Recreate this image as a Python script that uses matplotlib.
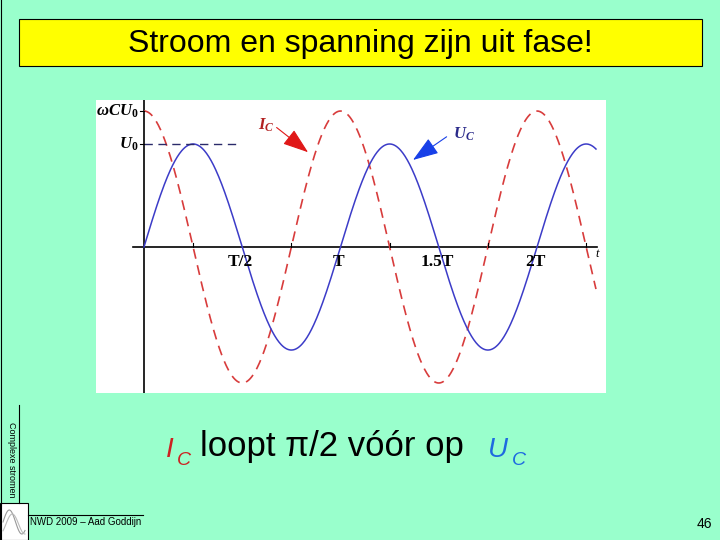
import numpy as np
import matplotlib.pyplot as plt
from matplotlib.patches import Rectangle

# curve parameters (U0 = 1, period T = 1)
period = 1.0
u0 = 1.0
i0 = 1.32          # omega*C*U0 relative to U0
t_end = 2.3

tick_pos = [0.5, 1.0, 1.5, 2.0]
tick_labels = ["T/2", "T", "1.5T", "2T"]
minor_ticks = [0.25, 0.75, 1.25, 1.75, 2.25]

plt.rcParams["mathtext.fontset"] = "custom"
plt.rcParams["mathtext.it"] = "Liberation Serif:italic:bold"
plt.rcParams["mathtext.rm"] = "Liberation Serif:bold"

W, H = 720, 540
fig = plt.figure(figsize=(7.2, 5.4), dpi=100, facecolor="#99FFCC")


def fx(x):
    return x / W


def fy(y):
    return 1 - y / H


# slide frame, title box
fig.add_artist(plt.Line2D([fx(1), fx(1)], [0, 1], color="black", lw=0.8))
fig.add_artist(Rectangle((fx(19), fy(66)), fx(683), 47 / H, facecolor="#FFFF00",
                         edgecolor="black", lw=0.8))
fig.text(fx(360), fy(44), "Stroom en spanning zijn uit fase!", ha="center", va="center",
         fontsize=23, family="Liberation Sans")

# main chart
ax = fig.add_axes([fx(96), fy(393), fx(510), 293 / H])
ax.set_facecolor("white")
for s in ax.spines.values():
    s.set_visible(False)
ax.set_xticks([])
ax.set_yticks([])
ax.set_xlim(-0.244, 2.351)
ax.set_ylim(-1.417, 1.427)

t = np.linspace(0, t_end, 600)
u = u0 * np.sin(2 * np.pi * t / period)
i = i0 * np.cos(2 * np.pi * t / period)

ax.axvline(0, color="black", lw=1.2)
ax.plot([-0.056, 2.305], [0, 0], color="black", lw=1.2)
ax.plot(t, i, color="#D83C3C", lw=1.2, ls=(0, (6, 4)))
ax.plot(t, u, color="#3C3CC8", lw=1.1)
ax.plot([0, 0.478], [u0, u0], color="#2A2A6A", lw=1.0, ls=(0, (6, 4)))

for m in minor_ticks:
    ax.plot([m, m], [0, 0.04], color="black", lw=0.8)
for yv in [u0, i0]:
    ax.plot([-0.02, 0], [yv, yv], color="black", lw=0.8)

for p, lab in zip(tick_pos, tick_labels):
    ax.text(p - 0.01, -0.15, lab, ha="center", va="center", fontsize=12.5,
            family="Liberation Serif", fontweight="bold")
ax.text(2.305, -0.07, "t", ha="center", va="center", fontsize=9,
        family="Liberation Serif", style="italic")

ax.text(-0.03, i0, r"$\omega CU_{\mathit{0}}$", ha="right", va="center", fontsize=12,
        math_fontfamily="custom")
ax.text(-0.03, u0, r"$U_{\mathit{0}}$", ha="right", va="center", fontsize=12,
        math_fontfamily="custom")

# curve labels with arrows
ax.text(0.62, 1.18, r"$I_C$", ha="center", va="center", color="#B22222", fontsize=12,
        math_fontfamily="custom")
ax.annotate("", xy=(0.835, 0.92), xytext=(0.675, 1.16),
            arrowprops=dict(arrowstyle="-|>,head_length=1.0,head_width=0.35",
                            color="#E01818", lw=0.8, mutation_scale=16,
                            shrinkA=0, shrinkB=0))
ax.text(1.63, 1.10, r"$U_C$", ha="center", va="center", color="#2A2A8A", fontsize=12,
        math_fontfamily="custom")
ax.annotate("", xy=(1.369, 0.845), xytext=(1.54, 1.07),
            arrowprops=dict(arrowstyle="-|>,head_length=1.0,head_width=0.35",
                            color="#1840E8", lw=0.8, mutation_scale=16,
                            shrinkA=0, shrinkB=0))

# bottom statement
fig.text(fx(166), fy(457), "I", color="#CC2222", fontsize=20, style="italic",
         family="Liberation Sans", va="baseline")
fig.text(fx(177), fy(465), "C", color="#CC2222", fontsize=14, style="italic",
         family="Liberation Sans", va="baseline")
fig.text(fx(200), fy(456), "loopt \u03c0/2 v\u00f3\u00f3r op", color="black", fontsize=25,
         family="Liberation Sans", va="baseline")
fig.text(fx(488), fy(457), "U", color="#1E6AE0", fontsize=20, style="italic",
         family="Liberation Sans", va="baseline")
fig.text(fx(512), fy(465), "C", color="#1E6AE0", fontsize=14, style="italic",
         family="Liberation Sans", va="baseline")

# side label and footer
fig.add_artist(plt.Line2D([fx(19), fx(19)], [fy(405), fy(503)], color="black", lw=0.8))
fig.text(fx(11), fy(460), "Complexe stromen", rotation=270, ha="center", va="center",
         fontsize=6.5, family="Liberation Sans")
fig.add_artist(Rectangle((fx(0), fy(540)), fx(28), 37 / H, facecolor="white",
                         edgecolor="black", lw=0.8))
lx = np.linspace(3, 25, 40)
fig.add_artist(plt.Line2D(fx(lx), fy(522 - 12 * np.sin((lx - 3) / 4)), color="#999999", lw=0.8))
fig.add_artist(plt.Line2D(fx(lx), fy(524 - 10 * np.sin((lx - 6) / 4)), color="#BBBBBB", lw=0.8))
fig.add_artist(plt.Line2D([fx(28), fx(143)], [fy(515), fy(515)], color="black", lw=0.8))
fig.text(fx(30), fy(522), "NWD 2009 \u2013 Aad Goddijn", ha="left", va="center",
         fontsize=7, family="Liberation Sans")
fig.text(fx(712), fy(524), "46", ha="right", va="center", fontsize=10,
         family="Liberation Sans")

fig.savefig("out.png", dpi=100, facecolor=fig.get_facecolor())
